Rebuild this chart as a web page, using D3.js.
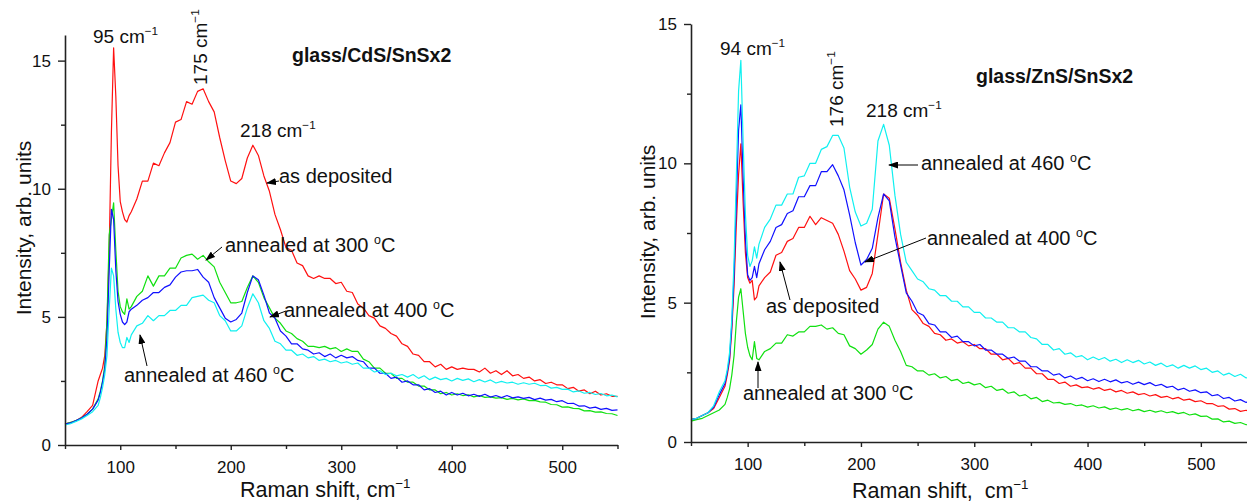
<!DOCTYPE html>
<html><head><meta charset="utf-8">
<script src="https://cdn.jsdelivr.net/npm/d3@7"></script>
<style>
body{margin:0;background:#fff;}
svg{display:block;font-family:"Liberation Sans",Arial,sans-serif;}
text{white-space:pre;}
</style></head><body>
<svg id="c" width="1247" height="503"></svg>
<script>
// Raman shift grid (cm^-1)
const ramanShift = [50,55,60,65,70,75,80,82,84,86,88,90,92,94,96,98,100,102,104,106,108,110,
115,120,125,130,135,140,145,150,155,160,165,170,175,180,185,190,195,200,
205,210,215,220,225,230,235,240,245,250,255,260,265,270,275,280,285,290,295,300,
305,310,315,320,325,330,335,340,345,350,355,360,365,370,375,380,385,390,395,400,
405,410,415,420,425,430,435,440,445,450,455,460,465,470,475,480,485,490,495,500,
505,510,515,520,525,530,535,540,545,550];

// glass/CdS/SnSx2
const cdsAsDeposited = [0.82,0.88,0.95,1.08,1.3,1.55,2.5,2.75,3.0,3.5,4.8,7.6,12.2,15.5,13.6,10.9,9.5,9.1,8.8,8.7,8.95,9.1,
9.6,10.3,10.3,11.0,10.9,11.4,11.8,12.6,12.7,13.4,13.3,13.8,13.9,13.4,13.0,12.0,11.1,10.3,
10.2,10.4,11.2,11.7,11.3,10.5,9.9,9.0,8.4,7.7,7.6,7.1,7.0,6.6,6.5,6.6,6.5,6.5,6.3,6.35,
6.0,5.95,5.5,5.35,5.05,4.95,4.65,4.55,4.35,4.25,3.95,3.85,3.55,3.5,3.25,3.25,3.05,3.15,2.95,3.05,
2.95,3.0,2.95,2.95,2.85,3.0,2.8,2.9,2.75,2.9,2.7,2.75,2.6,2.65,2.5,2.55,2.4,2.45,2.35,2.35,
2.2,2.25,2.1,2.15,2.0,2.1,1.95,2.0,1.9,1.9];
const cds300 = [0.82,0.88,0.95,1.05,1.2,1.4,1.8,2.1,2.5,3.1,4.9,8.2,8.8,9.45,7.6,6.0,5.4,5.2,5.1,5.7,5.3,5.4,
5.8,6.0,6.6,6.2,6.6,6.6,6.9,6.9,7.3,7.4,7.45,7.25,7.4,7.15,6.95,6.35,5.95,5.55,
5.55,5.6,6.15,6.6,6.35,5.75,5.35,4.95,4.75,4.45,4.35,4.15,4.05,3.85,3.85,3.8,3.85,3.75,3.8,3.65,
3.75,3.65,3.65,3.35,3.25,3.0,3.0,2.8,2.8,2.6,2.6,2.45,2.45,2.3,2.3,2.15,2.15,2.0,2.05,1.95,
2.0,1.93,1.96,1.88,1.93,1.86,1.88,1.83,1.85,1.78,1.82,1.76,1.8,1.73,1.74,1.68,1.67,1.58,1.57,1.48,
1.49,1.43,1.42,1.33,1.34,1.28,1.29,1.23,1.22,1.15];
const cds400 = [0.82,0.86,0.95,1.05,1.2,1.4,1.75,2.05,2.45,2.95,4.2,6.8,9.2,8.8,6.8,5.6,5.1,4.8,4.7,4.8,5.2,5.3,
5.45,5.65,5.75,5.95,5.95,6.15,6.25,6.55,6.75,6.8,6.8,6.85,6.55,6.35,5.75,5.35,4.95,4.8,
4.9,5.15,5.95,6.6,6.45,5.85,5.15,4.95,4.45,4.25,3.95,3.95,3.75,3.7,3.55,3.6,3.45,3.55,3.4,3.5,
3.4,3.45,3.3,3.25,3.0,3.0,2.8,2.8,2.6,2.65,2.45,2.5,2.35,2.35,2.15,2.2,2.05,2.1,1.95,2.05,
1.95,2.02,1.92,1.98,1.9,1.98,1.87,1.93,1.85,1.93,1.84,1.88,1.82,1.86,1.77,1.83,1.75,1.78,1.69,1.73,
1.62,1.63,1.52,1.53,1.44,1.48,1.39,1.43,1.35,1.37];
const cds460 = [0.78,0.83,0.92,1.02,1.15,1.3,1.55,1.85,2.25,2.75,3.5,5.3,6.9,6.6,5.3,4.4,4.0,3.8,3.8,4.2,4.0,4.3,
4.65,4.75,5.05,4.85,5.05,5.05,5.25,5.25,5.45,5.45,5.75,5.8,5.85,5.65,5.55,5.05,4.85,4.45,
4.45,4.65,5.35,5.9,5.55,4.85,4.55,4.05,3.95,3.7,3.7,3.5,3.55,3.4,3.45,3.3,3.35,3.25,3.3,3.2,
3.25,3.15,3.2,3.0,3.0,2.85,2.9,2.75,2.8,2.7,2.75,2.65,2.75,2.6,2.7,2.55,2.65,2.55,2.6,2.5,
2.6,2.52,2.58,2.47,2.55,2.46,2.54,2.42,2.48,2.42,2.45,2.37,2.43,2.37,2.41,2.32,2.33,2.22,2.25,2.17,
2.18,2.07,2.11,2.02,2.05,1.97,2.01,1.92,1.95,1.88];

// glass/ZnS/SnSx2
const znsAsDeposited = [0.8,0.85,0.95,1.05,1.2,1.6,2.0,2.4,2.9,4.0,5.6,7.8,9.6,10.7,8.6,6.8,5.9,5.7,5.8,5.1,5.2,5.6,
5.9,6.1,6.7,6.8,7.2,7.3,7.7,7.7,8.1,7.8,8.05,7.95,7.85,7.45,6.85,6.15,5.85,5.45,
5.55,6.05,7.45,8.9,8.75,7.65,6.45,5.45,4.75,4.55,4.25,4.15,3.9,3.85,3.65,3.7,3.55,3.6,3.45,3.5,
3.35,3.35,3.15,3.15,2.95,3.0,2.8,2.85,2.65,2.65,2.45,2.45,2.25,2.25,2.1,2.15,2.0,2.05,1.95,1.98,
1.9,1.95,1.85,1.9,1.8,1.85,1.75,1.8,1.7,1.74,1.65,1.7,1.6,1.64,1.55,1.6,1.5,1.54,1.45,1.48,
1.38,1.38,1.28,1.3,1.18,1.2,1.1,1.14,1.05,1.08];
const zns300 = [0.75,0.8,0.85,0.95,1.05,1.15,1.35,1.6,1.9,2.4,3.1,4.3,5.2,5.5,4.7,3.9,3.4,3.1,2.95,3.6,3.0,2.95,
3.25,3.35,3.55,3.55,3.85,3.8,3.95,3.95,4.15,4.15,4.2,4.05,4.1,3.9,3.85,3.45,3.35,3.15,
3.3,3.5,4.05,4.3,4.15,3.65,3.25,2.75,2.7,2.55,2.55,2.4,2.45,2.3,2.35,2.2,2.25,2.1,2.15,2.05,
2.1,1.95,2.0,1.85,1.9,1.75,1.8,1.65,1.7,1.55,1.6,1.45,1.5,1.4,1.42,1.35,1.38,1.3,1.33,1.25,
1.3,1.22,1.26,1.17,1.22,1.15,1.2,1.12,1.17,1.09,1.14,1.07,1.12,1.05,1.09,1.02,1.06,0.97,1.01,0.92,
0.93,0.82,0.83,0.72,0.75,0.67,0.7,0.62,0.65,0.58];
const zns400 = [0.8,0.85,0.95,1.05,1.25,1.7,2.1,2.5,3.0,4.2,6.0,8.6,11.2,12.1,9.5,7.3,6.0,5.8,5.9,6.3,5.9,6.4,
6.9,7.2,7.7,7.8,8.2,8.3,8.8,8.8,9.2,9.2,9.7,9.7,9.95,9.55,9.05,8.15,7.15,6.35,
6.55,6.95,8.05,8.9,8.65,7.35,6.35,5.35,5.05,4.65,4.55,4.25,4.2,3.95,3.95,3.75,3.8,3.6,3.6,3.45,
3.5,3.3,3.3,3.15,3.15,3.0,3.05,2.9,2.9,2.7,2.7,2.55,2.55,2.4,2.45,2.3,2.37,2.25,2.32,2.2,
2.27,2.17,2.25,2.16,2.23,2.12,2.17,2.07,2.15,2.06,2.13,2.02,2.07,1.96,2.0,1.87,1.93,1.82,1.87,1.77,
1.8,1.66,1.7,1.56,1.6,1.47,1.52,1.42,1.47,1.38];
const zns460 = [0.8,0.85,0.95,1.05,1.3,1.8,2.2,2.6,3.2,4.4,6.5,9.5,12.6,13.7,10.8,8.2,6.7,6.3,6.5,7.0,6.6,7.1,
7.7,8.0,8.5,8.5,8.9,8.9,9.5,9.55,10.0,10.0,10.5,10.6,11.0,11.0,10.55,9.15,8.25,7.75,
7.85,8.35,10.8,11.4,10.65,8.85,7.45,6.45,6.15,5.85,5.75,5.5,5.45,5.25,5.25,5.05,5.05,4.85,4.85,4.65,
4.65,4.45,4.45,4.3,4.3,4.1,4.1,3.95,3.95,3.75,3.7,3.5,3.5,3.3,3.35,3.15,3.2,3.05,3.1,2.95,
3.05,2.95,3.03,2.9,2.97,2.85,2.95,2.85,2.93,2.8,2.87,2.75,2.83,2.7,2.77,2.65,2.75,2.65,2.73,2.6,
2.65,2.5,2.55,2.4,2.47,2.35,2.43,2.3,2.37,2.27];

const xMajorTicks = [100,200,300,400,500];
const xMinorTicks = [50,150,250,350,450,550];
const yMajorTicks = [0,5,10,15];
const yMinorTicks = [2.5,7.5,12.5];

const RED="#ff1010", GREEN="#10e010", BLUE="#1010ff", CYAN="#10f0f0";

const svg = d3.select("#c");
const defs = svg.append("defs");
defs.append("marker").attr("id","ah").attr("markerUnits","userSpaceOnUse")
  .attr("markerWidth",10).attr("markerHeight",7).attr("refX",9).attr("refY",3.5)
  .attr("orient","auto")
  .append("path").attr("d","M0,0 L10,3.5 L0,7 Z").attr("fill","#000");

function panel(cfg){
  const g = svg.append("g");
  const x = d3.scaleLinear().domain([50,550]).range(cfg.xr);
  const y = d3.scaleLinear().domain(cfg.yd).range(cfg.yr);
  const line = d3.line().x((d,i)=>x(ramanShift[i])).y(d=>y(d));
  cfg.series.forEach(s=>{
    g.append("path").datum(s.v).attr("d",line).attr("fill","none")
     .attr("stroke",s.c).attr("stroke-width",1.2).attr("stroke-linejoin","round");
  });
  g.append("g").attr("transform",`translate(0,${cfg.yr[0]})`)
    .call(d3.axisBottom(x).tickValues(xMajorTicks).tickSize(5).tickSizeOuter(0).tickPadding(11).tickFormat(d3.format("d")));
  g.append("g").attr("transform",`translate(0,${cfg.yr[0]})`)
    .call(d3.axisBottom(x).tickValues(xMinorTicks).tickSize(4).tickSizeOuter(0).tickFormat(""))
    .select(".domain").remove();
  g.append("g").attr("transform",`translate(${cfg.xr[0]},0)`)
    .call(d3.axisLeft(y).tickValues(yMajorTicks).tickSize(7).tickSizeOuter(0).tickPadding(7).tickFormat(d3.format("d")));
  g.append("g").attr("transform",`translate(${cfg.xr[0]},0)`)
    .call(d3.axisLeft(y).tickValues(yMinorTicks).tickSize(4).tickFormat(""))
    .select(".domain").remove();
  g.selectAll(".domain").attr("stroke","#222").attr("stroke-width",1.6);
  g.selectAll(".tick line").attr("stroke","#222").attr("stroke-width",1.4);
  g.selectAll(".tick text").attr("font-size",17).attr("fill","#111")
    .attr("font-family","'Liberation Sans',Arial,sans-serif");
  return {g,x,y};
}

panel({xr:[65,617.5], yd:[0,16], yr:[445,35],
  series:[{v:cdsAsDeposited,c:RED},{v:cds300,c:GREEN},{v:cds400,c:BLUE},{v:cds460,c:CYAN}]});
panel({xr:[691,1257.5], yd:[0,15], yr:[442,24],
  series:[{v:zns300,c:GREEN},{v:znsAsDeposited,c:RED},{v:zns400,c:BLUE},{v:zns460,c:CYAN}]});

function label(x,y,txt,opts={}){
  const fs = opts.fs||19;
  const t = svg.append("text").attr("x",x).attr("y",y)
    .attr("font-size",fs).attr("fill","#111");
  if(opts.rot) t.attr("transform",`rotate(-90,${x},${y})`);
  if(opts.anchor) t.attr("text-anchor",opts.anchor);
  if(opts.bold) t.attr("font-weight","bold");
  t.append("tspan").text(txt);
  if(opts.sup){
    t.append("tspan").attr("font-size",fs*0.62).attr("dy",-fs*0.42).text(opts.sup);
  }
  if(opts.deg){
    t.append("tspan").text(" ");
    t.append("tspan").attr("font-size",fs*0.62).attr("dy",-fs*0.42).text("o");
    t.append("tspan").attr("dy",fs*0.42).text("C");
  }
  return t;
}
function arrow(x1,y1,x2,y2){
  svg.append("line").attr("x1",x1).attr("y1",y1).attr("x2",x2).attr("y2",y2)
    .attr("stroke","#000").attr("stroke-width",1).attr("marker-end","url(#ah)");
}

// axis titles
label(31,228,"Intensity, arb. units",{rot:true,anchor:"middle",fs:21});
label(655,232,"Intensity, arb. units",{rot:true,anchor:"middle",fs:21});
label(240,497,"Raman shift, cm",{fs:21.5,sup:"\u22121"});
label(852,498,"Raman shift,\u00a0 cm",{fs:21.5,sup:"\u22121"});

// titles
label(292,62,"glass/CdS/SnSx2",{fs:19.5,bold:true});
label(976,83,"glass/ZnS/SnSx2",{fs:19.5,bold:true});

// left annotations
label(93,43,"95 cm",{sup:"\u22121"});
label(207,85,"175 cm",{rot:true,sup:"\u22121"});
label(240,137,"218 cm",{sup:"\u22121"});
label(279,183,"as deposited",{fs:20});
arrow(279,181,267,183);
label(225,252,"annealed at 300",{deg:true,fs:20});
arrow(222,247,206,260);
label(284,317,"annealed at 400",{deg:true,fs:20});
arrow(286,311,270,317);
label(124,382,"annealed at 460",{deg:true,fs:20});
arrow(147,366,140,335);

// right annotations
label(720,55,"94 cm",{sup:"\u22121"});
label(843,127,"176 cm",{rot:true,sup:"\u22121"});
label(866,117,"218 cm",{sup:"\u22121"});
label(921,170,"annealed at 460",{deg:true,fs:20});
arrow(918,165,889,165);
label(927,245,"annealed at 400",{deg:true,fs:20});
arrow(926,238,865,262);
label(766,313,"as deposited",{fs:20});
arrow(790,300,780,262);
label(743,400,"annealed at 300",{deg:true,fs:20});
arrow(758,388,758,362);
</script></body></html>
